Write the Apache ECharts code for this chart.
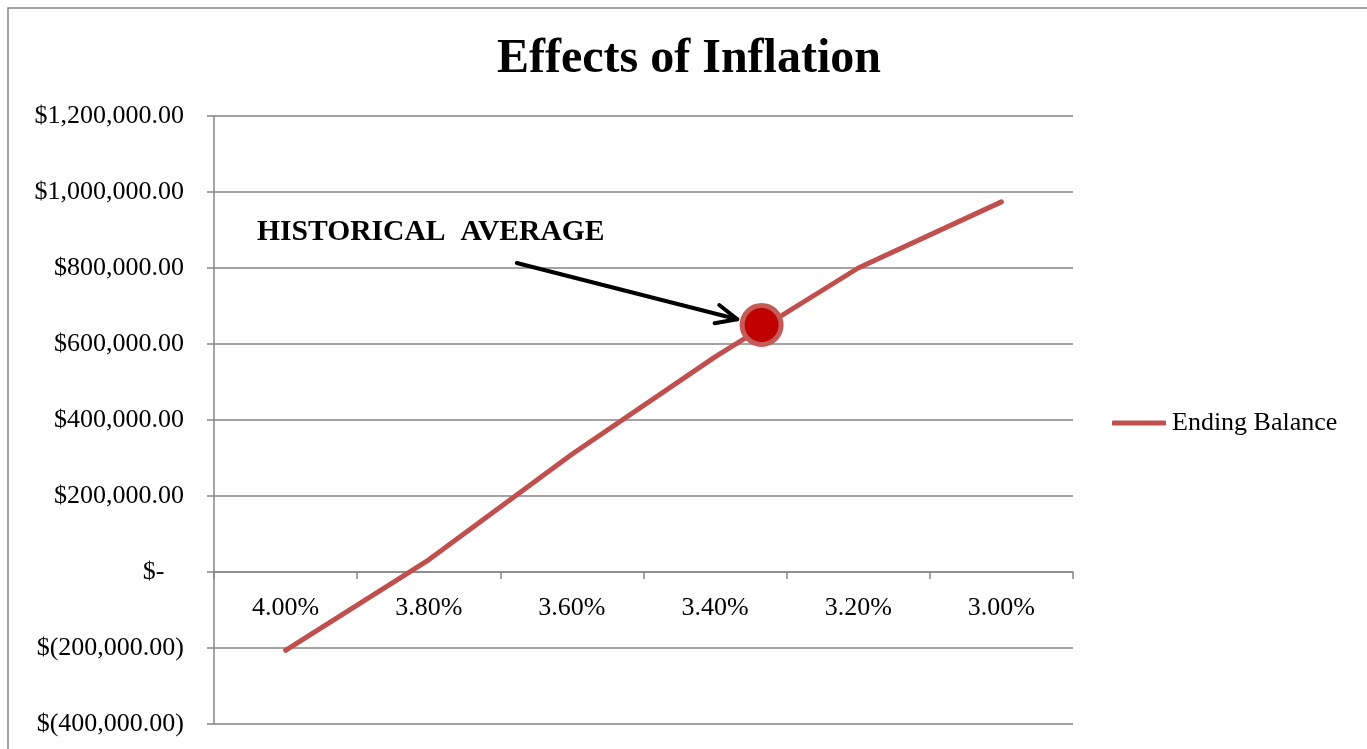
<!DOCTYPE html>
<html>
<head>
<meta charset="utf-8">
<title>Effects of Inflation</title>
<script src="https://cdn.jsdelivr.net/npm/echarts@6/dist/echarts.min.js"></script>
<style>
  html, body { margin: 0; padding: 0; background: #ffffff; }
  #chart { width: 1367px; height: 749px; }
</style>
</head>
<body>
<div id="chart"></div>
<script>
// Inflation rate scenarios (category axis, highest rate first)
const inflationLabels = ['4.00%', '3.80%', '3.60%', '3.40%', '3.20%', '3.00%'];
// Ending balance for each inflation scenario
const endingBalance = [-206000, 32000, 310000, 566000, 800000, 974000];
// Historical average inflation rate and the balance it produces
const historicalAverage = [3.335, 650000];
// Annotation arrow, in (inflation %, balance) terms
const arrowFrom = [3.677, 813000];
const arrowTo = [3.369, 665000];
const annotationText = 'HISTORICAL  AVERAGE';
// Balance axis range
const yMin = -400000, yMax = 1200000, yStep = 200000;

const serif = '"Liberation Serif", "Times New Roman", serif';
const gridGray = '#868686';

function money(v) {
  if (v === 0) return '$-   ';
  const s = Math.abs(v).toLocaleString('en-US', { minimumFractionDigits: 2, maximumFractionDigits: 2 });
  return v < 0 ? '$(' + s + ')' : '$' + s;
}

const chart = echarts.init(document.getElementById('chart'), null, { renderer: 'canvas' });

const option = {
  animation: false,
  backgroundColor: '#ffffff',
  title: {
    text: 'Effects of Inflation',
    left: 492,
    top: 31,
    textStyle: { fontFamily: serif, fontWeight: 'bold', fontSize: 48, color: '#000' }
  },
  legend: {
    data: ['Ending Balance'],
    left: 1112,
    top: 410,
    padding: 0,
    icon: 'roundRect',
    itemWidth: 54,
    itemHeight: 5,
    itemGap: 6,
    textStyle: { fontFamily: serif, fontSize: 26, color: '#000', padding: [0, 0, 0, 1] }
  },
  grid: { left: 214, right: 294, top: 116, bottom: 25, containLabel: false, outerBoundsMode: 'none' },
  xAxis: [
    {
      type: 'category',
      data: inflationLabels,
      boundaryGap: true,
      position: 'bottom',
      offset: 0,
      axisLine: { onZero: false, lineStyle: { color: gridGray, width: 1.5 } },
      axisTick: { show: true, length: 7, lineStyle: { color: gridGray, width: 1.5 } },
      axisLabel: { fontFamily: serif, fontSize: 26, color: '#000', margin: 23 },
      splitLine: { show: false }
    },
    {
      // numeric twin of the category axis, used for in-between rates
      type: 'value',
      show: false,
      inverse: true,
      min: 2.9,
      max: 4.1,
      position: 'bottom'
    }
  ],
  yAxis: {
    type: 'value',
    min: yMin,
    max: yMax,
    interval: yStep,
    axisLine: { show: true, onZero: false, lineStyle: { color: gridGray, width: 1.5 } },
    axisTick: { show: true, length: 7, lineStyle: { color: gridGray, width: 1.5 } },
    axisLabel: { fontFamily: serif, fontSize: 26, color: '#000', margin: 30, formatter: money },
    splitLine: { show: true, lineStyle: { color: gridGray, width: 1.5 } }
  },
  series: [
    {
      name: 'Ending Balance',
      type: 'line',
      data: endingBalance,
      xAxisIndex: 0,
      symbol: 'none',
      smooth: false,
      lineStyle: { color: '#C0504D', width: 5, cap: 'round', join: 'round' },
      itemStyle: { color: '#C0504D' },
      z: 3
    },
    {
      name: 'Historical Average',
      type: 'scatter',
      xAxisIndex: 1,
      data: [historicalAverage],
      symbol: 'circle',
      symbolSize: 39,
      itemStyle: { color: '#C00000', borderColor: '#C55A57', borderWidth: 5, opacity: 1 },
      z: 5
    }
  ]
};

chart.setOption(option);

// Lift the category axis so it crosses the balance axis at zero
const zeroY = chart.convertToPixel({ yAxisIndex: 0 }, 0);
const bottomY = chart.convertToPixel({ yAxisIndex: 0 }, yMin);
chart.setOption({ xAxis: [{ offset: zeroY - bottomY }, {}] });

// Annotation arrow pointing at the historical average
const a = chart.convertToPixel({ xAxisIndex: 1, yAxisIndex: 0 }, arrowFrom);
const b = chart.convertToPixel({ xAxisIndex: 1, yAxisIndex: 0 }, arrowTo);
const ang = Math.atan2(a[1] - b[1], a[0] - b[0]);
const headLen = 23, spread = 24 * Math.PI / 180;
const h1 = [b[0] + headLen * Math.cos(ang - spread), b[1] + headLen * Math.sin(ang - spread)];
const h2 = [b[0] + headLen * Math.cos(ang + spread), b[1] + headLen * Math.sin(ang + spread)];
const arrowStyle = { stroke: '#000', lineWidth: 4, lineCap: 'round', lineJoin: 'round', fill: null };

chart.setOption({
  graphic: [
    {
      type: 'rect',
      silent: true,
      shape: { x: 8, y: 8, width: 1420, height: 800 },
      style: { fill: null, stroke: gridGray, lineWidth: 1.5 },
      z: 0
    },
    {
      type: 'text',
      left: 257,
      top: 217,
      style: { text: annotationText, font: 'bold 29.6px ' + serif, fill: '#000' },
      z: 10
    },
    {
      type: 'polyline',
      shape: { points: [a, b] },
      style: arrowStyle,
      z: 10
    },
    {
      type: 'polyline',
      shape: { points: [h1, b, h2] },
      style: arrowStyle,
      z: 10
    }
  ]
});
</script>
</body>
</html>
